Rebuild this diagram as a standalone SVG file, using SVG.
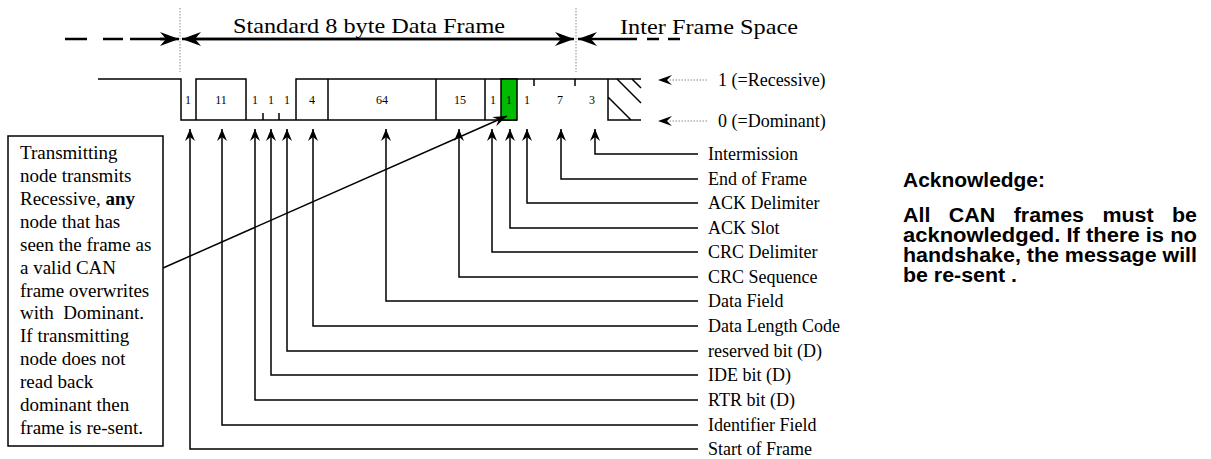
<svg xmlns="http://www.w3.org/2000/svg" width="1211" height="459" viewBox="0 0 1211 459">
<style>
.ln{stroke:#000;stroke-width:1.5;fill:none}
.thick{stroke:#000;stroke-width:2.6;fill:none}
.dot{stroke:#888;stroke-width:1;stroke-dasharray:1.5 1.5;fill:none}
.serif{font-family:"Liberation Serif","Times New Roman",serif;fill:#000}
.bit{font-family:"Liberation Serif","Times New Roman",serif;font-size:12px;fill:#000;text-anchor:middle}
.lbl{font-family:"Liberation Serif","Times New Roman",serif;font-size:18px;fill:#000}
.box{font-family:"Liberation Serif","Times New Roman",serif;font-size:19px;fill:#000}
.sans{font-family:"Liberation Sans",Arial,sans-serif;font-weight:bold;font-size:19.5px;fill:#000}
</style>
<defs>
<marker id="ah" viewBox="-13 -6 14 12" refX="0" refY="0" markerWidth="14" markerHeight="12" markerUnits="userSpaceOnUse" orient="auto"><path d="M0,0 L-12,-5 L-8,0 L-12,5 Z" fill="#000"/></marker>
<marker id="bh" viewBox="-20 -8 21 16" refX="0" refY="0" markerWidth="21" markerHeight="16" markerUnits="userSpaceOnUse" orient="auto"><path d="M0,0 L-19,-7 L-13,0 L-19,7 Z" fill="#000"/></marker>
<marker id="gh" viewBox="-15 -6 16 12" refX="0" refY="0" markerWidth="16" markerHeight="12" markerUnits="userSpaceOnUse" orient="auto"><path d="M0,0 L-14,-5 L-9,0 L-14,5 Z" fill="#000"/></marker>
</defs>

<g id="frame-header">
<text class="serif" x="233" y="33" font-size="22" textLength="272" lengthAdjust="spacingAndGlyphs">Standard 8 byte Data Frame</text>
<text class="serif" x="620" y="34" font-size="22" textLength="178" lengthAdjust="spacingAndGlyphs">Inter Frame Space</text>
<line class="dot" x1="180" y1="8" x2="180" y2="72"/>
<line class="dot" x1="576" y1="8" x2="576" y2="72"/>
<path class="thick" d="M65,39 H87 M103,39 H123 M130,39 H170"/>
<line class="thick" x1="160" y1="39" x2="179" y2="39" marker-end="url(#bh)"/>
<line class="thick" x1="190" y1="39" x2="574" y2="39" marker-end="url(#bh)"/>
<line class="thick" x1="560" y1="39" x2="182" y2="39" marker-end="url(#bh)"/>
<line class="thick" x1="637" y1="39" x2="578" y2="39" marker-end="url(#bh)"/>
<path class="thick" d="M647,39 H659 M668,39 H680"/>
</g>

<g id="waveform">
<path class="ln" d="M98,79 H181 V120 H517 M196,120 V79 H246 V120 M296,120 V79 H641 M328,79 V120 M436,79 V120 M485,79 V120 M263,120 V113 M279,120 V113 M534,79 V86 M575,79 V86"/>
<rect x="501" y="79" width="16" height="41" fill="#00bb00" stroke="#000" stroke-width="1.5"/>
<path class="ln" d="M608,79 V120 H641 M608,97 L631,120 M617,79 L641,103 M632,79 L641,88"/>
<text class="bit" x="188" y="104">1</text>
<text class="bit" x="221" y="104">11</text>
<text class="bit" x="255" y="104">1</text>
<text class="bit" x="271" y="104">1</text>
<text class="bit" x="287" y="104">1</text>
<text class="bit" x="312" y="104">4</text>
<text class="bit" x="382" y="104">64</text>
<text class="bit" x="460" y="104">15</text>
<text class="bit" x="493" y="104">1</text>
<text class="bit" x="509" y="104">1</text>
<text class="bit" x="527" y="104">1</text>
<text class="bit" x="560" y="104">7</text>
<text class="bit" x="592" y="104">3</text>
</g>

<g id="levels">
<line class="dot" x1="707" y1="80" x2="668" y2="80"/>
<line class="dot" x1="707" y1="121" x2="668" y2="121"/>
<path d="M658,80 L672,75 L667,80 L672,85 Z" fill="#000"/>
<path d="M658,121 L672,116 L667,121 L672,126 Z" fill="#000"/>
<text class="lbl" x="718" y="86" font-size="18.5">1 (=Recessive)</text>
<text class="lbl" x="718" y="127" font-size="18.5">0 (=Dominant)</text>
</g>

<g id="connectors">
<path class="ln" d="M698,154 H595 V129" marker-end="url(#ah)"/>
<path class="ln" d="M698,179 H561 V129" marker-end="url(#ah)"/>
<path class="ln" d="M698,203 H527 V129" marker-end="url(#ah)"/>
<path class="ln" d="M698,228 H510 V129" marker-end="url(#ah)"/>
<path class="ln" d="M698,252 H492 V129" marker-end="url(#ah)"/>
<path class="ln" d="M698,277 H459 V129" marker-end="url(#ah)"/>
<path class="ln" d="M698,301 H386 V129" marker-end="url(#ah)"/>
<path class="ln" d="M698,326 H313 V129" marker-end="url(#ah)"/>
<path class="ln" d="M698,351 H287 V129" marker-end="url(#ah)"/>
<path class="ln" d="M698,375 H271 V129" marker-end="url(#ah)"/>
<path class="ln" d="M698,400 H255 V129" marker-end="url(#ah)"/>
<path class="ln" d="M698,425 H222 V129" marker-end="url(#ah)"/>
<path class="ln" d="M698,449 H190 V129" marker-end="url(#ah)"/>
<line class="ln" x1="163" y1="268" x2="507" y2="116" marker-end="url(#gh)"/>
</g>

<g id="field-labels">
<text class="lbl" x="708" y="160">Intermission</text>
<text class="lbl" x="708" y="185">End of Frame</text>
<text class="lbl" x="708" y="209">ACK Delimiter</text>
<text class="lbl" x="708" y="234">ACK Slot</text>
<text class="lbl" x="708" y="258">CRC Delimiter</text>
<text class="lbl" x="708" y="283">CRC Sequence</text>
<text class="lbl" x="708" y="307">Data Field</text>
<text class="lbl" x="708" y="332">Data Length Code</text>
<text class="lbl" x="708" y="357">reserved bit (D)</text>
<text class="lbl" x="708" y="381">IDE bit (D)</text>
<text class="lbl" x="708" y="406">RTR bit (D)</text>
<text class="lbl" x="708" y="431">Identifier Field</text>
<text class="lbl" x="708" y="455">Start of Frame</text>
</g>

<g id="note-box">
<rect x="8" y="136" width="155" height="310" fill="#fff" stroke="#000" stroke-width="1.5"/>
<text class="box" x="20" y="159">Transmitting</text>
<text class="box" x="20" y="182">node transmits</text>
<text class="box" x="20" y="205">Recessive, <tspan font-weight="bold">any</tspan></text>
<text class="box" x="20" y="228">node that has</text>
<text class="box" x="20" y="251">seen the frame as</text>
<text class="box" x="20" y="274">a valid CAN</text>
<text class="box" x="20" y="297">frame overwrites</text>
<text class="box" x="20" y="319" xml:space="preserve">with  Dominant.</text>
<text class="box" x="20" y="342">If transmitting</text>
<text class="box" x="20" y="365">node does not</text>
<text class="box" x="20" y="388">read back</text>
<text class="box" x="20" y="411">dominant then</text>
<text class="box" x="20" y="434">frame is re-sent.</text>
</g>

<g id="acknowledge-note">
<text class="sans" x="903" y="187" textLength="142" lengthAdjust="spacingAndGlyphs">Acknowledge:</text>
<text class="sans" x="903" y="222" textLength="27.4" lengthAdjust="spacingAndGlyphs">All</text>
<text class="sans" x="948.8" y="222" textLength="46.5" lengthAdjust="spacingAndGlyphs">CAN</text>
<text class="sans" x="1013.7" y="222" textLength="70.3" lengthAdjust="spacingAndGlyphs">frames</text>
<text class="sans" x="1102.4" y="222" textLength="51.2" lengthAdjust="spacingAndGlyphs">must</text>
<text class="sans" x="1172" y="222" textLength="25" lengthAdjust="spacingAndGlyphs">be</text>
<text class="sans" x="903" y="242" textLength="294" lengthAdjust="spacingAndGlyphs">acknowledged. If there is no</text>
<text class="sans" x="903" y="262" textLength="294" lengthAdjust="spacingAndGlyphs">handshake, the message will</text>
<text class="sans" x="903" y="282" textLength="114" lengthAdjust="spacingAndGlyphs">be re-sent .</text>
</g>
</svg>
